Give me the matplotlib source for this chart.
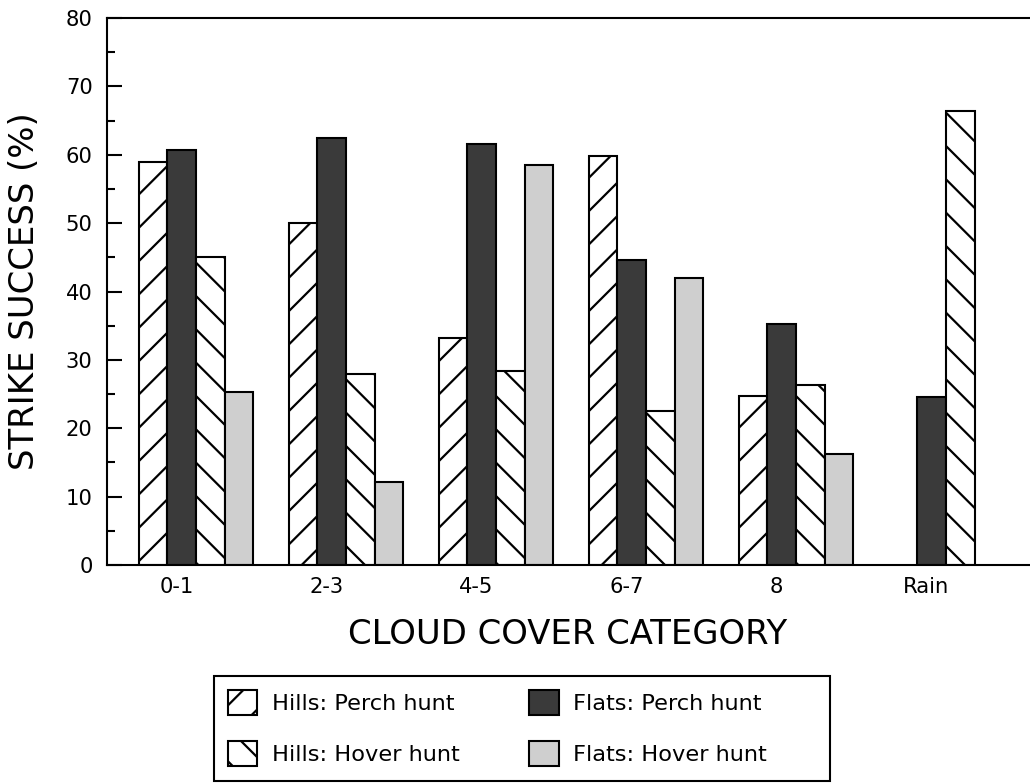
import numpy as np
import matplotlib
matplotlib.use('Agg')
import matplotlib.pyplot as plt
from matplotlib.ticker import MultipleLocator
from matplotlib.patches import Rectangle

# data (strike success in %)
categories = ['0-1', '2-3', '4-5', '6-7', '8', 'Rain']
hills_perch = [59.0, 50.0, 33.2, 59.8, 24.7, np.nan]
flats_perch = [60.7, 62.5, 61.6, 44.6, 35.3, 24.6]
hills_hover = [45.0, 28.0, 28.3, 22.5, 26.3, 66.4]
flats_hover = [25.3, 12.1, 58.5, 42.0, 16.3, np.nan]

plt.rcParams['font.family'] = ['DejaVu Sans']
plt.rcParams['hatch.linewidth'] = 0.8
plt.rcParams['hatch.color'] = 'black'

fig = plt.figure(figsize=(5.15, 3.915), dpi=200)
ax = fig.add_axes([107 / 1030, 1 - 565 / 783, 923 / 1030, 547 / 783])

x = np.arange(len(categories))
w = 0.191
lw = 0.75
series = [
    (hills_perch, dict(facecolor='white', hatch='//'), 'Hills: Perch hunt'),
    (flats_perch, dict(facecolor='#3a3a3a'), 'Flats: Perch hunt'),
    (hills_hover, dict(facecolor='white', hatch='\\\\'), 'Hills: Hover hunt'),
    (flats_hover, dict(facecolor='#cfcfcf'), 'Flats: Hover hunt'),
]
bars = []
for i, (vals, style, name) in enumerate(series):
    b = ax.bar(x + (i - 1.5) * w, vals, w, edgecolor='black', linewidth=lw,
               label=name, **style)
    bars.append(b)

ax.set_xlim(-0.593, 5.56)
ax.set_ylim(0, 80)
ax.set_xticks(x - 0.13)
ax.set_xticklabels(categories, fontsize=7.6)
ax.tick_params(axis='x', length=0, pad=4.3)
ax.yaxis.set_major_locator(MultipleLocator(10))
ax.yaxis.set_minor_locator(MultipleLocator(5))
ax.tick_params(axis='y', which='major', direction='in', length=5.4, width=lw,
               labelsize=7.6, pad=5.2)
ax.tick_params(axis='y', which='minor', direction='in', length=2.9, width=lw)

ax.spines['right'].set_visible(False)
for s in ['left', 'top', 'bottom']:
    ax.spines[s].set_linewidth(lw)

fig.text(25 / 1030, 1 - 291 / 783, 'STRIKE SUCCESS (%)', rotation=90,
         ha='center', va='center', fontsize=12.2)
fig.text(568 / 1030, 1 - 634 / 783, 'CLOUD COVER CATEGORY',
         ha='center', va='center', fontsize=12.2)

# legend: frameless legend + a plain box drawn around it
handles = [bars[0], bars[2], bars[1], bars[3]]
labels = ['Hills: Perch hunt', 'Hills: Hover hunt', 'Flats: Perch hunt', 'Flats: Hover hunt']
fig.legend(handles, labels, ncol=2, loc='upper left', frameon=False,
           bbox_to_anchor=(228 / 1030, 1 - 690 / 783), borderpad=0, borderaxespad=0,
           fontsize=8.1, handlelength=1.3, handleheight=1.33, labelspacing=1.15,
           handletextpad=0.65, columnspacing=3.1)
fig.patches.append(Rectangle((214 / 1030, 1 - 781 / 783), 616 / 1030, 105 / 783,
                             transform=fig.transFigure, fill=False,
                             edgecolor='black', linewidth=lw))

plt.savefig('out.png', dpi=200)
